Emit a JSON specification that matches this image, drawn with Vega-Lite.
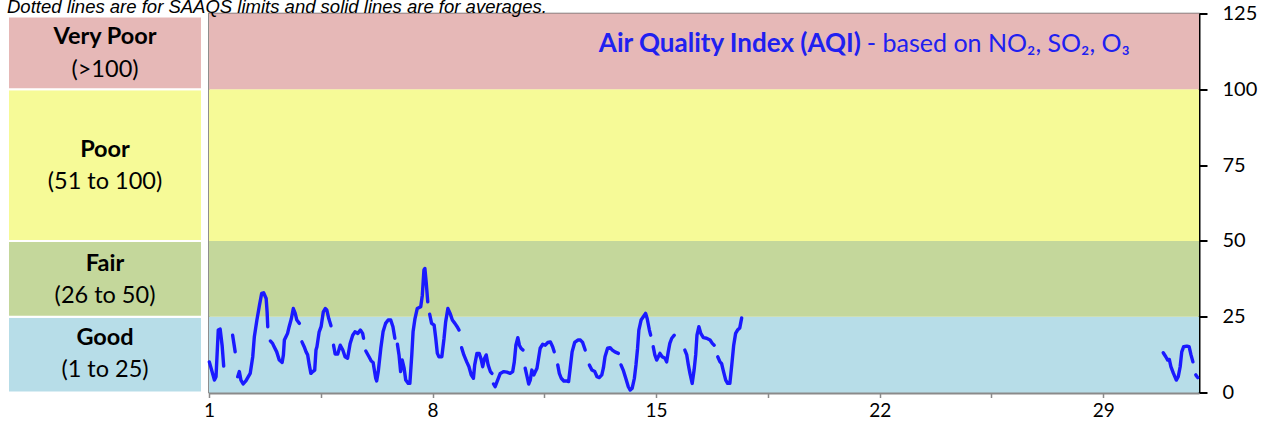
{
  "$schema": "https://vega.github.io/schema/vega-lite/v6.json",
  "padding": {"top": -2.5, "left": 7, "right": 5, "bottom": 0},
  "title": {"text": "Dotted lines are for SAAQS limits and solid lines are for averages.", "anchor": "start", "fontSize": 18.5, "font": "Liberation Sans", "fontStyle": "italic", "fontWeight": "normal", "color": "#000000", "offset": -13.5, "frame": "bounds"},
  "spacing": 7,
  "bounds": "flush",
  "config": {"font": "Lato", "view": {"stroke": null}},
  "datasets": {
    "bands": [
      {"cat": "Good", "lo": 0, "hi": 25, "hiL": 25},
      {"cat": "Fair", "lo": 25, "hi": 50, "hiL": 50},
      {"cat": "Poor", "lo": 50, "hi": 100, "hiL": 100},
      {"cat": "Very Poor", "lo": 100, "hi": 125, "hiL": 124}
    ],
    "labels": [
      {"t": "Very Poor", "w": "b", "v": 115.0},
      {"t": "(>100)", "w": "n", "v": 103.9},
      {"t": "Poor", "w": "b", "v": 77.7},
      {"t": "(51 to 100)", "w": "n", "v": 67.2},
      {"t": "Fair", "w": "b", "v": 40.0},
      {"t": "(26 to 50)", "w": "n", "v": 29.5},
      {"t": "Good", "w": "b", "v": 15.6},
      {"t": "(1 to 25)", "w": "n", "v": 5.2}
    ],
    "heads": [
      {"t": "Air Quality Index (AQI)", "w": "b", "d": 21.41, "v": 112.3},
      {"t": "- based on NO₂, SO₂, O₃", "w": "n", "d": 21.6, "v": 112.3}
    ],
    "aqi": [
      {"s":1,"d":1.01,"v":10.1},{"s":1,"d":1.17,"v":4.1},{"s":1,"d":1.22,"v":5.2},{"s":1,"d":1.29,"v":20.6},{"s":1,"d":1.35,"v":20.9},{"s":1,"d":1.41,"v":15.6},{"s":1,"d":1.46,"v":8.7},
      {"s":2,"d":1.74,"v":18.9},{"s":2,"d":1.82,"v":13.4},
      {"s":3,"d":1.90,"v":5.2},{"s":3,"d":1.95,"v":6.9},{"s":3,"d":2.00,"v":4.1},{"s":3,"d":2.07,"v":2.8},{"s":3,"d":2.16,"v":3.9},{"s":3,"d":2.29,"v":6.3},{"s":3,"d":2.37,"v":11.8},{"s":3,"d":2.42,"v":18.4},{"s":3,"d":2.50,"v":23.9},{"s":3,"d":2.58,"v":28.8},{"s":3,"d":2.65,"v":32.7},{"s":3,"d":2.71,"v":32.9},{"s":3,"d":2.79,"v":31.0},{"s":3,"d":2.82,"v":26.5},{"s":3,"d":2.84,"v":21.7},
      {"s":4,"d":2.92,"v":17.0},{"s":4,"d":2.99,"v":16.2},{"s":4,"d":3.04,"v":15.1},{"s":4,"d":3.12,"v":13.4},{"s":4,"d":3.20,"v":10.7},{"s":4,"d":3.29,"v":9.9},{"s":4,"d":3.33,"v":12.4},{"s":4,"d":3.36,"v":17.3},{"s":4,"d":3.41,"v":18.4},{"s":4,"d":3.46,"v":19.5},{"s":4,"d":3.51,"v":21.7},{"s":4,"d":3.58,"v":24.4},{"s":4,"d":3.64,"v":27.7},{"s":4,"d":3.70,"v":26.1},{"s":4,"d":3.75,"v":23.9},{"s":4,"d":3.83,"v":22.8},
      {"s":5,"d":3.91,"v":16.7},{"s":5,"d":3.98,"v":15.1},{"s":5,"d":4.04,"v":13.4},{"s":5,"d":4.09,"v":12.4},{"s":5,"d":4.14,"v":9.1},{"s":5,"d":4.19,"v":6.3},{"s":5,"d":4.25,"v":6.9},{"s":5,"d":4.31,"v":7.4},{"s":5,"d":4.35,"v":14.0},{"s":5,"d":4.38,"v":15.1},{"s":5,"d":4.45,"v":20.0},{"s":5,"d":4.51,"v":21.7},{"s":5,"d":4.58,"v":26.6},{"s":5,"d":4.64,"v":27.7},{"s":5,"d":4.69,"v":27.2},{"s":5,"d":4.75,"v":24.4},{"s":5,"d":4.82,"v":22.0},
      {"s":6,"d":4.90,"v":15.6},{"s":6,"d":4.95,"v":12.7},{"s":6,"d":5.03,"v":12.7},{"s":6,"d":5.11,"v":15.6},{"s":6,"d":5.19,"v":14.0},{"s":6,"d":5.26,"v":11.8},{"s":6,"d":5.34,"v":11.3},{"s":6,"d":5.42,"v":16.2},{"s":6,"d":5.50,"v":18.9},{"s":6,"d":5.57,"v":20.0},{"s":6,"d":5.66,"v":19.5},{"s":6,"d":5.74,"v":20.6},{"s":6,"d":5.81,"v":19.5},{"s":6,"d":5.84,"v":17.9},
      {"s":7,"d":5.91,"v":13.7},{"s":7,"d":6.01,"v":11.8},{"s":7,"d":6.08,"v":10.4},{"s":7,"d":6.14,"v":9.9},{"s":7,"d":6.22,"v":4.7},{"s":7,"d":6.25,"v":3.8},{"s":7,"d":6.30,"v":6.9},{"s":7,"d":6.38,"v":14.6},{"s":7,"d":6.45,"v":20.0},{"s":7,"d":6.53,"v":22.8},{"s":7,"d":6.61,"v":23.9},{"s":7,"d":6.69,"v":23.9},{"s":7,"d":6.76,"v":21.7},{"s":7,"d":6.82,"v":17.9},
      {"s":8,"d":6.90,"v":15.9},{"s":8,"d":6.95,"v":12.4},{"s":8,"d":7.00,"v":6.9},{"s":8,"d":7.05,"v":10.7},{"s":8,"d":7.11,"v":8.0},{"s":8,"d":7.16,"v":4.1},{"s":8,"d":7.24,"v":3.0},{"s":8,"d":7.29,"v":3.0},{"s":8,"d":7.35,"v":12.4},{"s":8,"d":7.39,"v":20.0},{"s":8,"d":7.45,"v":24.4},{"s":8,"d":7.52,"v":27.7},{"s":8,"d":7.63,"v":28.3},{"s":8,"d":7.68,"v":32.1},{"s":8,"d":7.73,"v":40.4},{"s":8,"d":7.76,"v":40.9},{"s":8,"d":7.80,"v":36.5},{"s":8,"d":7.85,"v":29.9},
      {"s":9,"d":7.91,"v":25.8},{"s":9,"d":7.97,"v":22.8},{"s":9,"d":8.05,"v":22.2},{"s":9,"d":8.10,"v":17.9},{"s":9,"d":8.15,"v":12.9},{"s":9,"d":8.20,"v":11.8},{"s":9,"d":8.29,"v":11.8},{"s":9,"d":8.36,"v":17.9},{"s":9,"d":8.41,"v":23.3},{"s":9,"d":8.48,"v":27.7},{"s":9,"d":8.55,"v":26.1},{"s":9,"d":8.62,"v":23.9},{"s":9,"d":8.70,"v":22.8},{"s":9,"d":8.77,"v":21.7},{"s":9,"d":8.83,"v":20.6},
      {"s":10,"d":8.91,"v":14.8},{"s":10,"d":8.98,"v":12.4},{"s":10,"d":9.07,"v":10.1},{"s":10,"d":9.14,"v":8.5},{"s":10,"d":9.21,"v":5.8},{"s":10,"d":9.28,"v":4.7},{"s":10,"d":9.32,"v":9.1},{"s":10,"d":9.39,"v":12.9},{"s":10,"d":9.46,"v":12.9},{"s":10,"d":9.52,"v":11.0},{"s":10,"d":9.57,"v":8.5},{"s":10,"d":9.63,"v":11.3},{"s":10,"d":9.68,"v":12.4},{"s":10,"d":9.74,"v":9.1},{"s":10,"d":9.81,"v":6.9},{"s":10,"d":9.86,"v":6.3},
      {"s":11,"d":9.91,"v":2.8},{"s":11,"d":9.96,"v":1.9},{"s":11,"d":10.02,"v":3.6},{"s":11,"d":10.12,"v":6.3},{"s":11,"d":10.23,"v":6.9},{"s":11,"d":10.33,"v":6.7},{"s":11,"d":10.43,"v":6.3},{"s":11,"d":10.51,"v":6.9},{"s":11,"d":10.56,"v":10.1},{"s":11,"d":10.61,"v":15.6},{"s":11,"d":10.67,"v":18.1},{"s":11,"d":10.72,"v":15.6},{"s":11,"d":10.77,"v":14.6},{"s":11,"d":10.83,"v":14.0},
      {"s":12,"d":10.90,"v":8.0},{"s":12,"d":10.96,"v":5.2},{"s":12,"d":11.01,"v":2.8},{"s":12,"d":11.06,"v":4.1},{"s":12,"d":11.11,"v":7.4},{"s":12,"d":11.17,"v":5.8},{"s":12,"d":11.22,"v":6.9},{"s":12,"d":11.27,"v":8.0},{"s":12,"d":11.32,"v":11.3},{"s":12,"d":11.37,"v":14.6},{"s":12,"d":11.45,"v":15.9},{"s":12,"d":11.53,"v":15.6},{"s":12,"d":11.61,"v":16.5},{"s":12,"d":11.69,"v":16.7},{"s":12,"d":11.76,"v":15.1},{"s":12,"d":11.81,"v":13.4},
      {"s":13,"d":11.92,"v":9.1},{"s":13,"d":11.97,"v":6.3},{"s":13,"d":12.03,"v":4.7},{"s":13,"d":12.11,"v":3.8},{"s":13,"d":12.19,"v":3.8},{"s":13,"d":12.26,"v":3.6},{"s":13,"d":12.31,"v":8.0},{"s":13,"d":12.37,"v":13.4},{"s":13,"d":12.45,"v":16.5},{"s":13,"d":12.55,"v":17.3},{"s":13,"d":12.63,"v":17.3},{"s":13,"d":12.70,"v":16.5},{"s":13,"d":12.78,"v":14.0},
      {"s":14,"d":12.91,"v":9.1},{"s":14,"d":12.99,"v":7.4},{"s":14,"d":13.08,"v":6.9},{"s":14,"d":13.15,"v":5.2},{"s":14,"d":13.22,"v":4.9},{"s":14,"d":13.30,"v":5.8},{"s":14,"d":13.35,"v":8.1},{"s":14,"d":13.40,"v":11.8},{"s":14,"d":13.48,"v":14.6},{"s":14,"d":13.56,"v":14.8},{"s":14,"d":13.63,"v":14.0},{"s":14,"d":13.71,"v":13.4},{"s":14,"d":13.82,"v":12.9},
      {"s":15,"d":13.90,"v":9.1},{"s":15,"d":13.97,"v":7.4},{"s":15,"d":14.05,"v":4.7},{"s":15,"d":14.13,"v":1.9},{"s":15,"d":14.19,"v":0.8},{"s":15,"d":14.25,"v":1.4},{"s":15,"d":14.32,"v":4.7},{"s":15,"d":14.37,"v":9.1},{"s":15,"d":14.42,"v":14.6},{"s":15,"d":14.46,"v":20.6},{"s":15,"d":14.53,"v":23.9},{"s":15,"d":14.60,"v":25.0},{"s":15,"d":14.67,"v":26.1},{"s":15,"d":14.72,"v":24.4},{"s":15,"d":14.79,"v":20.6},{"s":15,"d":14.83,"v":18.9},
      {"s":16,"d":14.91,"v":15.1},{"s":16,"d":14.96,"v":12.4},{"s":16,"d":15.02,"v":10.7},{"s":16,"d":15.07,"v":11.8},{"s":16,"d":15.12,"v":12.9},{"s":16,"d":15.19,"v":11.8},{"s":16,"d":15.28,"v":11.3},{"s":16,"d":15.33,"v":10.1},{"s":16,"d":15.38,"v":13.4},{"s":16,"d":15.43,"v":16.2},{"s":16,"d":15.49,"v":17.9},{"s":16,"d":15.57,"v":18.9},
      {"s":17,"d":15.90,"v":14.0},{"s":17,"d":15.96,"v":12.4},{"s":17,"d":16.01,"v":9.1},{"s":17,"d":16.06,"v":6.3},{"s":17,"d":16.13,"v":3.0},{"s":17,"d":16.19,"v":7.4},{"s":17,"d":16.24,"v":12.4},{"s":17,"d":16.28,"v":18.9},{"s":17,"d":16.34,"v":21.7},{"s":17,"d":16.40,"v":19.5},{"s":17,"d":16.48,"v":18.1},{"s":17,"d":16.58,"v":17.9},{"s":17,"d":16.69,"v":17.3},{"s":17,"d":16.76,"v":16.2},{"s":17,"d":16.82,"v":15.6},
      {"s":18,"d":16.93,"v":11.8},{"s":18,"d":17.00,"v":10.1},{"s":18,"d":17.05,"v":9.6},{"s":18,"d":17.10,"v":7.4},{"s":18,"d":17.18,"v":4.1},{"s":18,"d":17.24,"v":3.0},{"s":18,"d":17.31,"v":3.0},{"s":18,"d":17.37,"v":9.1},{"s":18,"d":17.43,"v":15.6},{"s":18,"d":17.49,"v":19.5},{"s":18,"d":17.55,"v":20.6},{"s":18,"d":17.62,"v":21.3},{"s":18,"d":17.68,"v":24.6},
      {"s":19,"d":30.88,"v":13.1},{"s":19,"d":30.96,"v":11.8},{"s":19,"d":31.02,"v":10.7},{"s":19,"d":31.07,"v":10.9},{"s":19,"d":31.12,"v":8.5},{"s":19,"d":31.20,"v":6.3},{"s":19,"d":31.29,"v":4.1},{"s":19,"d":31.35,"v":5.2},{"s":19,"d":31.41,"v":8.5},{"s":19,"d":31.46,"v":13.4},{"s":19,"d":31.52,"v":15.1},{"s":19,"d":31.62,"v":15.3},{"s":19,"d":31.69,"v":15.1},{"s":19,"d":31.75,"v":12.4},{"s":19,"d":31.81,"v":10.1},
      {"s":20,"d":31.90,"v":5.8},{"s":20,"d":31.96,"v":4.9}
    ]
  },
  "hconcat": [
    {
      "width": 194,
      "height": 379,
      "layer": [
        {
          "data": {"name": "bands"},
          "mark": {"type": "rect", "stroke": "#ffffff", "strokeWidth": 2},
          "encoding": {
            "y": {"field": "lo", "type": "quantitative", "scale": {"domain": [0, 125], "nice": false, "zero": false}, "axis": null},
            "y2": {"field": "hiL"},
            "color": {"field": "cat", "type": "nominal", "legend": null, "scale": {"domain": ["Good", "Fair", "Poor", "Very Poor"], "range": ["#B7DDE8", "#C4D79B", "#F6FA97", "#E6B8B7"]}}
          }
        },
        {
          "data": {"name": "labels"},
          "transform": [{"filter": "datum.w == 'b'"}],
          "mark": {"type": "text", "fontSize": 23.5, "fontWeight": "bold", "baseline": "alphabetic", "align": "center", "color": "#000000"},
          "encoding": {
            "y": {"field": "v", "type": "quantitative", "scale": {"domain": [0, 125], "nice": false, "zero": false}, "axis": null},
            "text": {"field": "t", "type": "nominal"}
          }
        },
        {
          "data": {"name": "labels"},
          "transform": [{"filter": "datum.w == 'n'"}],
          "mark": {"type": "text", "fontSize": 23.5, "fontWeight": "normal", "baseline": "alphabetic", "align": "center", "color": "#000000"},
          "encoding": {
            "y": {"field": "v", "type": "quantitative", "scale": {"domain": [0, 125], "nice": false, "zero": false}, "axis": null},
            "text": {"field": "t", "type": "nominal"}
          }
        }
      ]
    },
    {
      "width": 990,
      "height": 379,
      "view": {"stroke": "#6a6a6a", "strokeWidth": 1.5},
      "layer": [
        {
          "data": {"name": "bands"},
          "mark": {"type": "rect"},
          "encoding": {
            "y": {"field": "lo", "type": "quantitative", "scale": {"domain": [0, 125], "nice": false, "zero": false},
              "axis": {"orient": "right", "values": [0, 25, 50, 75, 100, 125], "title": null, "grid": false, "domainColor": "#000000", "domainWidth": 2, "tickColor": "#000000", "tickWidth": 2, "tickSize": 8, "labelFontSize": 20, "labelColor": "#000000", "labelPadding": 15, "labelFont": "Lato"}},
            "y2": {"field": "hi"},
            "color": {"field": "cat", "type": "nominal", "legend": null, "scale": {"domain": ["Good", "Fair", "Poor", "Very Poor"], "range": ["#B7DDE8", "#C4D79B", "#F6FA97", "#E6B8B7"]}}
          }
        },
        {
          "data": {"name": "aqi"},
          "mark": {"type": "line", "color": "#1a1aff", "strokeWidth": 3.4, "strokeJoin": "round", "strokeCap": "round"},
          "encoding": {
            "x": {"field": "d", "type": "quantitative", "title": null, "scale": {"domain": [1, 32], "nice": false, "zero": false},
              "axis": {"values": [1, 4.5, 8, 11.5, 15, 18.5, 22, 25.5, 29], "labelExpr": "datum.value % 7 == 1 ? datum.label : ''", "title": null, "grid": false, "labelFlush": false, "domainColor": "#8a8a8a", "domainWidth": 3, "tickColor": "#8a8a8a", "tickWidth": 1.5, "tickSize": 5, "labelFontSize": 19, "labelColor": "#000000", "labelPadding": 4, "labelFont": "Lato"}},
            "y": {"field": "v", "type": "quantitative", "title": null, "scale": {"domain": [0, 125], "nice": false, "zero": false}},
            "detail": {"field": "s", "type": "nominal"}
          }
        },
        {
          "data": {"name": "heads"},
          "transform": [{"filter": "datum.w == 'b'"}],
          "mark": {"type": "text", "fontSize": 26, "fontWeight": "bold", "align": "right", "baseline": "alphabetic", "color": "#2020f0"},
          "encoding": {
            "x": {"field": "d", "type": "quantitative", "title": null, "scale": {"domain": [1, 32], "nice": false, "zero": false}},
            "y": {"field": "v", "type": "quantitative", "title": null, "scale": {"domain": [0, 125], "nice": false, "zero": false}},
            "text": {"field": "t", "type": "nominal"}
          }
        },
        {
          "data": {"name": "heads"},
          "transform": [{"filter": "datum.w == 'n'"}],
          "mark": {"type": "text", "fontSize": 25, "fontWeight": "normal", "align": "left", "baseline": "alphabetic", "color": "#2020f0"},
          "encoding": {
            "x": {"field": "d", "type": "quantitative", "title": null, "scale": {"domain": [1, 32], "nice": false, "zero": false}},
            "y": {"field": "v", "type": "quantitative", "title": null, "scale": {"domain": [0, 125], "nice": false, "zero": false}},
            "text": {"field": "t", "type": "nominal"}
          }
        }
      ]
    }
  ]
}
